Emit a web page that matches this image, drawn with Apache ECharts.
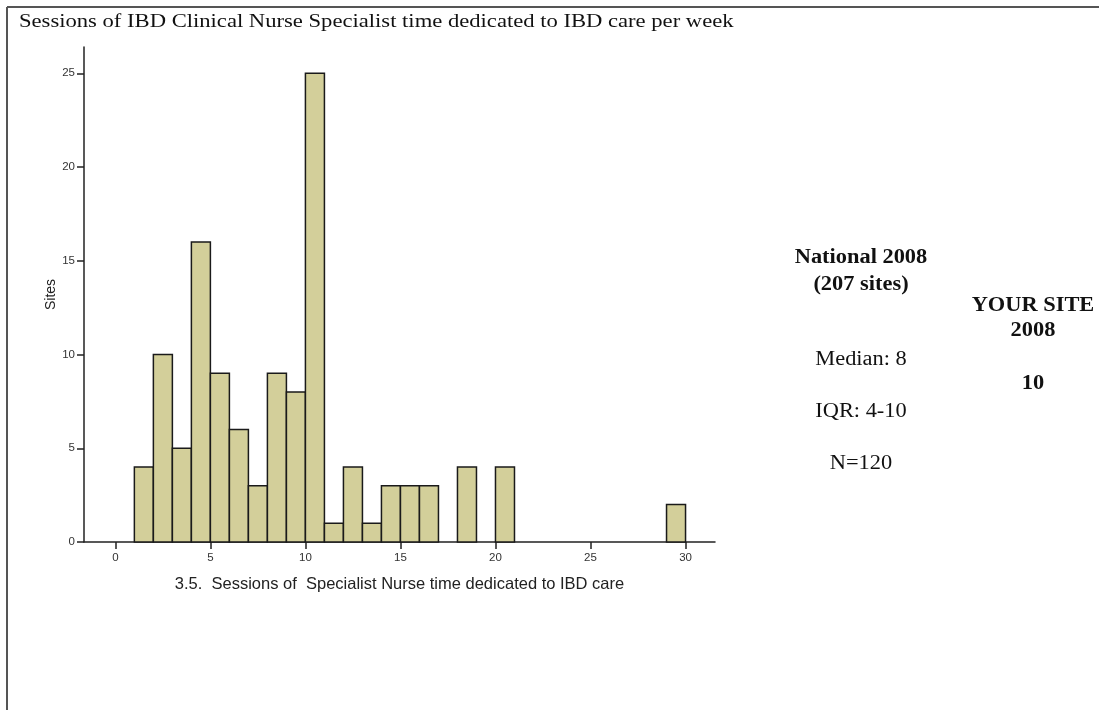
<!DOCTYPE html>
<html>
<head>
<meta charset="utf-8">
<script src="https://cdn.jsdelivr.net/npm/echarts@6/dist/echarts.min.js"></script>
<style>
  html, body { margin: 0; padding: 0; background: #fff; }
  #main { width: 1099px; height: 710px; }
</style>
</head>
<body>
<div id="main"></div>
<script>
// histogram bins: start of each 1-session bin and number of sites in it
const binStarts = [1, 2, 3, 4, 5, 6, 7, 8, 9, 10, 11, 12, 13, 14, 15, 16, 18, 20, 29];
const siteCounts = [4, 10, 5, 16, 9, 6, 3, 9, 8, 25, 1, 4, 1, 3, 3, 3, 4, 4, 2];
const binWidth = 1;

const xTicks = [0, 5, 10, 15, 20, 25, 30];
const yTicks = [0, 5, 10, 15, 20, 25];

const titleText = 'Sessions of IBD Clinical Nurse Specialist time dedicated to IBD care per week';
const nationalLines = ['National 2008', '(207 sites)'];
const nationalStats = ['Median: 8', 'IQR: 4-10', 'N=120'];
const yourSiteLines = ['YOUR SITE', '2008'];
const yourSiteValue = '10';

const chart = echarts.init(document.getElementById('main'));

const histData = binStarts.map((s, i) => [s, s + binWidth, siteCounts[i]]);

const serif = '"Liberation Serif", "DejaVu Serif", serif';
const sans = '"Liberation Sans", Arial, sans-serif';

function renderBin(params, api) {
  const topLeft = api.coord([api.value(0), api.value(2)]);
  const bottomRight = api.coord([api.value(1), 0]);
  return {
    type: 'rect',
    shape: {
      x: topLeft[0],
      y: topLeft[1],
      width: bottomRight[0] - topLeft[0],
      height: bottomRight[1] - topLeft[1]
    },
    style: { fill: '#d3cf9a', stroke: '#1a1a1a', lineWidth: 1.5 }
  };
}

// the original page text is a little wider than it is tall, so stretch it
function sideText(x, y, text, bold) {
  return {
    type: 'text',
    x: x,
    y: y,
    scaleX: 1.12,
    style: {
      text: text,
      font: (bold ? 'bold ' : '') + '20px ' + serif,
      textAlign: 'center',
      textVerticalAlign: 'middle',
      fill: '#111'
    }
  };
}

const option = {
  animation: false,
  backgroundColor: '#fff',
  grid: { left: 84, right: 384, top: 47, bottom: 168 },
  xAxis: {
    type: 'value',
    min: -1.65,
    max: 31.55,
    name: '3.5.  Sessions of  Specialist Nurse time dedicated to IBD care',
    nameLocation: 'middle',
    nameGap: 34,
    nameTextStyle: { fontFamily: sans, fontSize: 16.5, color: '#222' },
    splitLine: { show: false },
    axisLine: { onZero: false, lineStyle: { color: '#222', width: 1.5 } },
    axisTick: { customValues: xTicks, length: 7, lineStyle: { color: '#222', width: 1.5 } },
    axisLabel: { customValues: xTicks, fontFamily: sans, fontSize: 11.5, color: '#333', margin: 10 }
  },
  yAxis: {
    type: 'value',
    min: 0,
    max: 26.4,
    name: 'Sites',
    nameLocation: 'middle',
    nameGap: 26,
    nameMoveOverlap: false,
    nameTextStyle: { fontFamily: sans, fontSize: 14, color: '#222' },
    splitLine: { show: false },
    axisLine: { show: true, onZero: false, lineStyle: { color: '#222', width: 1.5 } },
    axisTick: { show: true, customValues: yTicks, length: 7, lineStyle: { color: '#222', width: 1.5 } },
    axisLabel: { customValues: yTicks, fontFamily: sans, fontSize: 11.5, color: '#333', margin: 9 }
  },
  series: [{
    type: 'custom',
    renderItem: renderBin,
    encode: { x: [0, 1], y: 2 },
    data: histData
  }],
  graphic: [
    // page frame, top and left edges
    { type: 'line', shape: { x1: 7, y1: 7, x2: 1099, y2: 7 }, style: { stroke: '#555', lineWidth: 2 } },
    { type: 'line', shape: { x1: 7, y1: 7, x2: 7, y2: 710 }, style: { stroke: '#555', lineWidth: 2 } },
    {
      type: 'text', x: 19, y: 22, scaleX: 1.19,
      style: { text: titleText, font: '19px ' + serif, textAlign: 'left', textVerticalAlign: 'middle', fill: '#111' }
    },
    sideText(861, 258, nationalLines[0], true),
    sideText(861, 285, nationalLines[1], true),
    sideText(861, 360, nationalStats[0], false),
    sideText(861, 412, nationalStats[1], false),
    sideText(861, 464, nationalStats[2], false),
    sideText(1033, 306, yourSiteLines[0], true),
    sideText(1033, 331, yourSiteLines[1], true),
    sideText(1033, 384, yourSiteValue, true)
  ]
};

chart.setOption(option);
window.onresize = function () { chart.resize(); };
</script>
</body>
</html>
